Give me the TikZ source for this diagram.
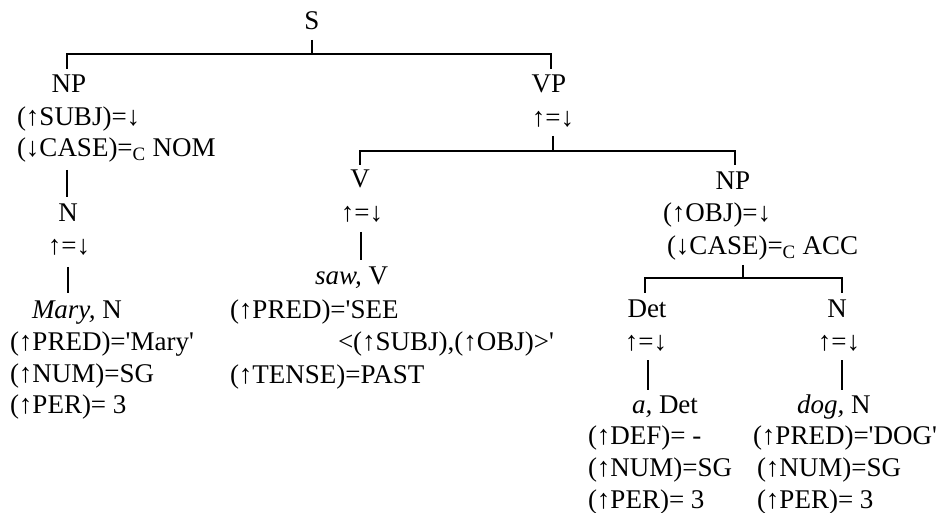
\documentclass[tikz,border=0pt]{standalone}
\usepackage{fontspec}
\setmainfont{Liberation Serif}[Ligatures=TeXOff]
\newcommand{\upa}{\char"2191\relax}
\newcommand{\dna}{\char"2193\relax}
\newcommand{\cc}{\textsubscript{C}}
\begin{document}
\begin{tikzpicture}[x=1pt,y=-1pt,
  every node/.style={inner sep=0pt,outer sep=0pt,font=\fontsize{27}{32}\selectfont},
  lbl/.style={anchor=base},
  eqn/.style={anchor=base west},
  branch/.style={line width=1.6pt}]
\useasboundingbox (0,0) rectangle (943,513);

% S and its daughters
\node[lbl] (S) at (312,30) {S};
\node[lbl] (NPa) at (69,93) {NP};
\node[eqn] (subj) at (17,126) {(\upa SUBJ)=\dna};
\node[eqn] (casea) at (17,157) {(\dna CASE)=\cc{} NOM};
\node[lbl] (Na) at (68,222) {N};
\node[lbl] (eqNa) at (69,255) {\upa=\dna};
\node[eqn] (mary) at (32,318) {\textit{Mary,} N};
\node[eqn] (preda) at (10,350) {(\upa PRED)='Mary'};
\node[eqn] (numa) at (10,382) {(\upa NUM)=SG};
\node[eqn] (pera) at (10,413) {(\upa PER)= 3};

% VP and the verb
\node[lbl] (VP) at (549,93) {VP};
\node[lbl] (eqVP) at (553,127) {\upa=\dna};
\node[lbl] (V) at (360,188) {V};
\node[lbl] (eqV) at (362,222) {\upa=\dna};
\node[eqn] (saw) at (315,285) {\textit{saw,} V};
\node[eqn] (seea) at (230,318) {(\upa PRED)='SEE};
\node[eqn] (seeb) at (338,350) {<(\upa SUBJ),(\upa OBJ)>'};
\node[eqn] (tense) at (230,383) {(\upa TENSE)=PAST};

% object NP
\node[lbl] (NPb) at (733,190) {NP};
\node[eqn] (obj) at (663,222) {(\upa OBJ)=\dna};
\node[eqn] (caseb) at (667,255) {(\dna CASE)=\cc{} ACC};
\node[lbl] (Det) at (647,317) {Det};
\node[lbl] (Nb) at (837,317) {N};
\node[lbl] (eqDet) at (646,350) {\upa=\dna};
\node[lbl] (eqNb) at (839,350) {\upa=\dna};
\node[eqn] (adet) at (632,413) {\textit{a,} Det};
\node[eqn] (dog) at (797,413) {\textit{dog,} N};
\node[eqn] (def) at (588,444) {(\upa DEF)= -};
\node[eqn] (numb) at (588,476) {(\upa NUM)=SG};
\node[eqn] (perb) at (588,508) {(\upa PER)= 3};
\node[eqn] (predc) at (753,444) {(\upa PRED)='DOG'};
\node[eqn] (numc) at (757,476) {(\upa NUM)=SG};
\node[eqn] (perc) at (757,508) {(\upa PER)= 3};

% branch points
\coordinate (sT) at (312,40);  \coordinate (sB) at (312,54);
\coordinate (npaT) at (67,69); \coordinate (vpT) at (551,69);
\coordinate (npaD) at (67,170); \coordinate (naU) at (67,197);
\coordinate (naD) at (68,267); \coordinate (maryU) at (68,293);
\coordinate (vpD) at (553,136); \coordinate (vpB) at (553,151);
\coordinate (vT) at (360,165); \coordinate (npbT) at (735,165);
\coordinate (vD) at (361,232); \coordinate (sawU) at (361,260);
\coordinate (npbD) at (743,265); \coordinate (npbB) at (743,278);
\coordinate (detT) at (645,293); \coordinate (nbT) at (842,293);
\coordinate (detD) at (648,360); \coordinate (aU) at (648,390);
\coordinate (nbD) at (842,360); \coordinate (dogU) at (842,390);

\draw[branch] (sT) -- (sB);
\draw[branch] (npaT) |- (sB) -| (vpT);
\draw[branch] (npaD) -- (naU);
\draw[branch] (naD) -- (maryU);
\draw[branch] (vpD) -- (vpB);
\draw[branch] (vT) |- (vpB) -| (npbT);
\draw[branch] (vD) -- (sawU);
\draw[branch] (npbD) -- (npbB);
\draw[branch] (detT) |- (npbB) -| (nbT);
\draw[branch] (detD) -- (aU);
\draw[branch] (nbD) -- (dogU);
\end{tikzpicture}
\end{document}
